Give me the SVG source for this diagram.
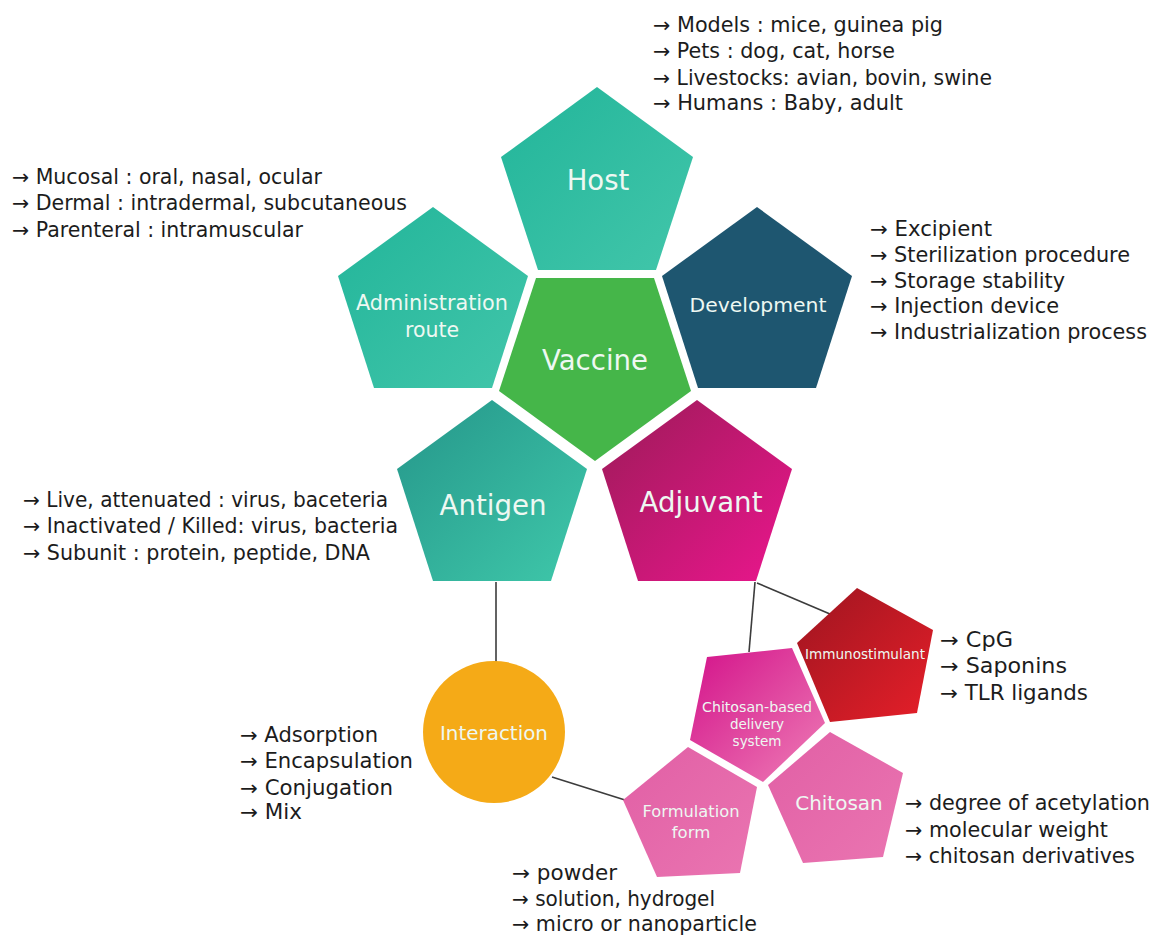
<svg xmlns="http://www.w3.org/2000/svg" width="1153" height="936" viewBox="0 0 1153 936">
<defs>
<linearGradient id="gTeal" x1="0" y1="0" x2="1" y2="1"><stop offset="0" stop-color="#22b59a"/><stop offset="1" stop-color="#42c6aa"/></linearGradient>
<linearGradient id="gAnt" x1="0" y1="0" x2="1" y2="1"><stop offset="0" stop-color="#25968a"/><stop offset="1" stop-color="#3fc8aa"/></linearGradient>
<linearGradient id="gAdj" x1="0" y1="0" x2="1" y2="1"><stop offset="0" stop-color="#9c1b58"/><stop offset="1" stop-color="#ea168d"/></linearGradient>
<linearGradient id="gImm" x1="0" y1="0" x2="1" y2="1"><stop offset="0" stop-color="#9e1520"/><stop offset="1" stop-color="#e61f29"/></linearGradient>
<linearGradient id="gCbd" x1="0" y1="0" x2="1" y2="1"><stop offset="0" stop-color="#d3128a"/><stop offset="1" stop-color="#ee7db6"/></linearGradient>
<linearGradient id="gPink" x1="0" y1="0" x2="1" y2="1"><stop offset="0" stop-color="#e15fa5"/><stop offset="1" stop-color="#ea75b1"/></linearGradient>
</defs>
<style>
.lst{font-family:"DejaVu Sans","Liberation Sans",sans-serif;font-size:20.5px;fill:#1c1c1c}
.lbl{font-family:"DejaVu Sans","Liberation Sans",sans-serif;fill:#eef8f2;text-anchor:middle}
.con{stroke:#3c3c3c;stroke-width:1.6;fill:none}
</style>
<rect width="1153" height="936" fill="#ffffff"/>
<g id="connectors">
<line class="con" x1="496" y1="582" x2="496" y2="662"/>
<line class="con" x1="755" y1="582" x2="749" y2="652"/>
<line class="con" x1="757" y1="583" x2="830" y2="614"/>
<line class="con" x1="552" y1="777" x2="625" y2="800"/>
</g>
<g id="host">
<polygon points="597,87 693,157 656,270 538,270 501,157" fill="url(#gTeal)"/>
<text class="lbl" x="598" y="190" font-size="27.5">Host</text>
</g>
<g id="admin">
<polygon points="433,207 528,276 492,388 374,388 338,276" fill="url(#gTeal)"/>
<text class="lbl" x="432" y="310" font-size="20.5" textLength="152" lengthAdjust="spacingAndGlyphs">Administration</text>
<text class="lbl" x="432" y="337" font-size="20.5">route</text>
</g>
<g id="development">
<polygon points="757,207 852,276 816,388 698,388 662,276" fill="#1e5670"/>
<text class="lbl" x="758" y="312" font-size="20" textLength="137" lengthAdjust="spacingAndGlyphs">Development</text>
</g>
<g id="vaccine">
<polygon points="536,278 654,278 691,391 595,461 499,391" fill="#45b649"/>
<text class="lbl" x="595" y="370" font-size="28" fill="#e9f5d6" textLength="106" lengthAdjust="spacingAndGlyphs">Vaccine</text>
</g>
<g id="antigen">
<polygon points="492,400 587,469 551,581 433,581 397,469" fill="url(#gAnt)"/>
<text class="lbl" x="493" y="515" font-size="28" textLength="107" lengthAdjust="spacingAndGlyphs">Antigen</text>
</g>
<g id="adjuvant">
<polygon points="697,400 792,469 756,581 638,581 602,469" fill="url(#gAdj)"/>
<text class="lbl" x="701" y="512" font-size="28" textLength="123" lengthAdjust="spacingAndGlyphs">Adjuvant</text>
</g>
<g id="immunostimulant">
<polygon points="857,588 933,630 917,713 830,722 797,643" fill="url(#gImm)"/>
<text class="lbl" x="865" y="659" font-size="13.5" textLength="120" lengthAdjust="spacingAndGlyphs">Immunostimulant</text>
</g>
<g id="delivery">
<polygon points="707,657 792,648 825,723 763,782 690,740" fill="url(#gCbd)"/>
<text class="lbl" x="757" y="712" font-size="13.5" textLength="110" lengthAdjust="spacingAndGlyphs">Chitosan-based</text>
<text class="lbl" x="757" y="729" font-size="13.5">delivery</text>
<text class="lbl" x="757" y="746" font-size="13.5">system</text>
</g>
<g id="formulation">
<polygon points="688,747 757,787 740,873 657,877 623,800" fill="url(#gPink)"/>
<text class="lbl" x="691" y="817" font-size="16.5" textLength="97" lengthAdjust="spacingAndGlyphs">Formulation</text>
<text class="lbl" x="691" y="838" font-size="16.5">form</text>
</g>
<g id="chitosan">
<polygon points="830,732 903,773 883,857 803,863 768,785" fill="url(#gPink)"/>
<text class="lbl" x="839" y="810" font-size="20">Chitosan</text>
</g>
<g id="interaction">
<circle cx="494" cy="732" r="71" fill="#f5aa17"/>
<text class="lbl" x="494" y="740" font-size="20" fill="#2e2410" textLength="108" lengthAdjust="spacingAndGlyphs">Interaction</text>
</g>
<g id="lists">
<text class="lst" x="653" y="32" textLength="290" lengthAdjust="spacingAndGlyphs">→ Models : mice, guinea pig</text>
<text class="lst" x="653" y="58" textLength="242" lengthAdjust="spacingAndGlyphs">→ Pets : dog, cat, horse</text>
<text class="lst" x="653" y="85" textLength="339" lengthAdjust="spacingAndGlyphs">→ Livestocks: avian, bovin, swine</text>
<text class="lst" x="653" y="110" textLength="250" lengthAdjust="spacingAndGlyphs">→ Humans : Baby, adult</text>
<text class="lst" x="12" y="184" textLength="310" lengthAdjust="spacingAndGlyphs">→ Mucosal : oral, nasal, ocular</text>
<text class="lst" x="12" y="210" textLength="395" lengthAdjust="spacingAndGlyphs">→ Dermal : intradermal, subcutaneous</text>
<text class="lst" x="12" y="237" textLength="291" lengthAdjust="spacingAndGlyphs">→ Parenteral : intramuscular</text>
<text class="lst" x="870" y="236" textLength="122" lengthAdjust="spacingAndGlyphs">→ Excipient</text>
<text class="lst" x="870" y="262" textLength="260" lengthAdjust="spacingAndGlyphs">→ Sterilization procedure</text>
<text class="lst" x="870" y="288" textLength="195" lengthAdjust="spacingAndGlyphs">→ Storage stability</text>
<text class="lst" x="870" y="313" textLength="189" lengthAdjust="spacingAndGlyphs">→ Injection device</text>
<text class="lst" x="870" y="339" textLength="277" lengthAdjust="spacingAndGlyphs">→ Industrialization process</text>
<text class="lst" x="23" y="507" textLength="365" lengthAdjust="spacingAndGlyphs">→ Live, attenuated : virus, baceteria</text>
<text class="lst" x="23" y="533" textLength="375" lengthAdjust="spacingAndGlyphs">→ Inactivated / Killed: virus, bacteria</text>
<text class="lst" x="23" y="560" textLength="347" lengthAdjust="spacingAndGlyphs">→ Subunit : protein, peptide, DNA</text>
<text class="lst" x="940" y="647" textLength="73" lengthAdjust="spacingAndGlyphs">→ CpG</text>
<text class="lst" x="940" y="673" textLength="127" lengthAdjust="spacingAndGlyphs">→ Saponins</text>
<text class="lst" x="940" y="700" textLength="148" lengthAdjust="spacingAndGlyphs">→ TLR ligands</text>
<text class="lst" x="240" y="742" textLength="138" lengthAdjust="spacingAndGlyphs">→ Adsorption</text>
<text class="lst" x="240" y="768" textLength="173" lengthAdjust="spacingAndGlyphs">→ Encapsulation</text>
<text class="lst" x="240" y="795" textLength="153" lengthAdjust="spacingAndGlyphs">→ Conjugation</text>
<text class="lst" x="240" y="819" textLength="62" lengthAdjust="spacingAndGlyphs">→ Mix</text>
<text class="lst" x="905" y="810" textLength="245" lengthAdjust="spacingAndGlyphs">→ degree of acetylation</text>
<text class="lst" x="905" y="837" textLength="203" lengthAdjust="spacingAndGlyphs">→ molecular weight</text>
<text class="lst" x="905" y="863" textLength="230" lengthAdjust="spacingAndGlyphs">→ chitosan derivatives</text>
<text class="lst" x="512" y="880" textLength="105" lengthAdjust="spacingAndGlyphs">→ powder</text>
<text class="lst" x="512" y="906" textLength="203" lengthAdjust="spacingAndGlyphs">→ solution, hydrogel</text>
<text class="lst" x="512" y="931" textLength="245" lengthAdjust="spacingAndGlyphs">→ micro or nanoparticle</text>
</g>
</svg>
